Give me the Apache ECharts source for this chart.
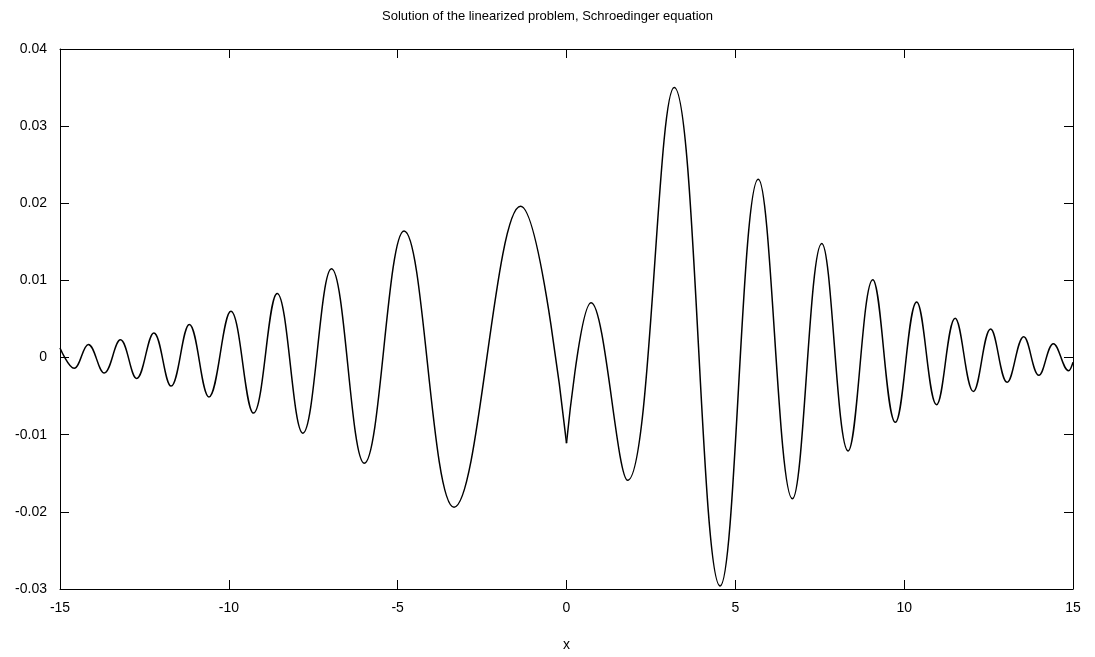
<!DOCTYPE html>
<html>
<head>
<meta charset="utf-8">
<script src="https://cdn.jsdelivr.net/npm/echarts@6/dist/echarts.min.js"></script>
<style>
html, body { margin: 0; padding: 0; background: #fff; }
#main { width: 1095px; height: 657px; }
</style>
</head>
<body>
<div id="main"></div>
<script>
// turning points, left part up to the cusp at x = 0
var xLeft = [-15, -14.58, -14.16, -13.69, -13.21, -12.73, -12.22, -11.71, -11.17, -10.59,
	-9.94, -9.27, -8.57, -7.81, -6.96, -5.99, -4.81, -3.33, -1.36, 0];
var yLeft = [0.00125, -0.0014, 0.0017, -0.0020, 0.0023, -0.0027, 0.0032, -0.0037, 0.0043, -0.0051,
	0.0060, -0.0072, 0.0083, -0.0098, 0.0115, -0.0137, 0.0164, -0.0194, 0.0196, -0.0111];
// right part, from the cusp to 15
var xRight = [0, 0.73, 1.81, 3.19, 4.55, 5.68, 6.69, 7.56, 8.34, 9.07,
	9.74, 10.37, 10.96, 11.51, 12.05, 12.56, 13.05, 13.54, 13.99, 14.42,
	14.87, 15];
var yRight = [-0.0111, 0.0071, -0.0159, 0.0350, -0.0296, 0.0231, -0.0183, 0.0148, -0.0121, 0.0101,
	-0.0084, 0.0072, -0.0061, 0.0051, -0.0044, 0.0037, -0.0032, 0.0027, -0.0023, 0.0018,
	-0.0017, -0.0006];

function pairs(xs, ys) {
	var out = [];
	for (var i = 0; i < xs.length; i++) out.push([xs[i], ys[i]]);
	return out;
}

var font = 'Liberation Sans, Arial, sans-serif';
var tick = { show: true, inside: true, length: 9, lineStyle: { color: '#000' } };
var line = { show: true, onZero: false, lineStyle: { color: '#000', width: 1 } };

var myChart = echarts.init(document.getElementById('main'));
var option = {
	animation: false,
	title: {
		text: 'Solution of the linearized problem, Schroedinger equation',
		left: 'center',
		top: 5,
		textStyle: { fontFamily: font, fontSize: 13, fontWeight: 'normal', color: '#000' }
	},
	grid: { left: 60, right: 22, top: 49, bottom: 68 },
	xAxis: [{
		type: 'value',
		min: -15, max: 15, interval: 5,
		position: 'bottom',
		name: 'x',
		nameLocation: 'middle',
		nameGap: 49,
		nameTextStyle: { fontFamily: font, fontSize: 14, color: '#000' },
		axisLine: line,
		axisTick: tick,
		axisLabel: { fontFamily: font, fontSize: 14, color: '#000', margin: 12 },
		splitLine: { show: false }
	}, {
		type: 'value',
		min: -15, max: 15, interval: 5,
		position: 'top',
		axisLine: line,
		axisTick: tick,
		axisLabel: { show: false },
		splitLine: { show: false }
	}],
	yAxis: [{
		type: 'value',
		min: -0.03, max: 0.04, interval: 0.01,
		position: 'left',
		axisLine: line,
		axisTick: tick,
		axisLabel: { fontFamily: font, fontSize: 14, color: '#000', margin: 13 },
		splitLine: { show: false }
	}, {
		type: 'value',
		min: -0.03, max: 0.04, interval: 0.01,
		position: 'right',
		axisLine: line,
		axisTick: tick,
		axisLabel: { show: false },
		splitLine: { show: false }
	}],
	series: [{
		type: 'line',
		data: pairs(xLeft, yLeft),
		smooth: 0.4,
		showSymbol: false,
		lineStyle: { color: '#000', width: 1.5 }
	}, {
		type: 'line',
		data: pairs(xRight, yRight),
		smooth: 0.4,
		showSymbol: false,
		lineStyle: { color: '#000', width: 1.5 }
	}]
};
myChart.setOption(option);
</script>
</body>
</html>
